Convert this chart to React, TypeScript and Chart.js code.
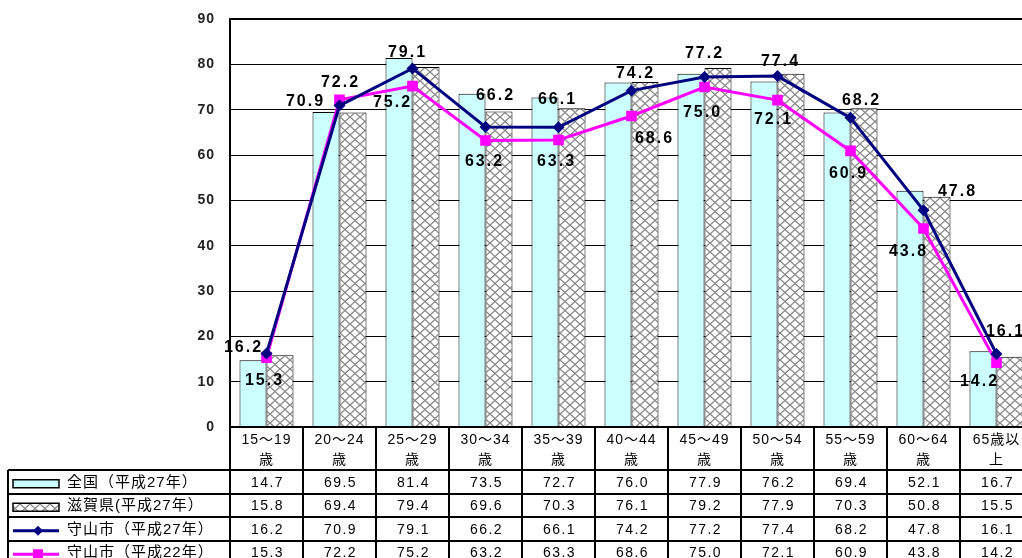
import React, { useEffect, useRef } from "react";
import { Chart, registerables } from "chart.js";

Chart.register(...registerables);

// ---- data ----
const categories: string[][] = [
  ["15～19", "歳"],
  ["20～24", "歳"],
  ["25～29", "歳"],
  ["30～34", "歳"],
  ["35～39", "歳"],
  ["40～44", "歳"],
  ["45～49", "歳"],
  ["50～54", "歳"],
  ["55～59", "歳"],
  ["60～64", "歳"],
  ["65歳以", "上"],
];
const zenkokuH27 = [14.7, 69.5, 81.4, 73.5, 72.7, 76.0, 77.9, 76.2, 69.4, 52.1, 16.7];
const shigaH27 = [15.8, 69.4, 79.4, 69.6, 70.3, 76.1, 79.2, 77.9, 70.3, 50.8, 15.5];
const moriyamaH27 = [16.2, 70.9, 79.1, 66.2, 66.1, 74.2, 77.2, 77.4, 68.2, 47.8, 16.1];
const moriyamaH22 = [15.3, 72.2, 75.2, 63.2, 63.3, 68.6, 75.0, 72.1, 60.9, 43.8, 14.2];
const seriesNames = ["全国（平成27年）", "滋賀県(平成27年）", "守山市（平成27年）", "守山市（平成22年）"];
const yMin = 0;
const yMax = 90;
const yStep = 10;

// label placement (pixel offsets from each point), not data
const labelOffsetsH27: number[][] = [
  [-24, -6], [-35, -4], [-6, -16], [9, -31], [-2, -28], [3, -17], [-1, -23], [2, -15], [10, -17], [33, -19], [8, -22],
];
const labelOffsetsH22: number[][] = [
  [-3, 23], [0, -17], [-21, 17], [-2, 21], [-3, 22], [22, 23], [-3, 26], [-5, 19], [-3, 23], [-16, 23], [-18, 19],
];

const CYAN = "#CCFFFF";
const NAVY = "#000080";
const MAGENTA = "#FF00FF";
const FONT = '"Liberation Sans", "Noto Sans CJK JP", sans-serif';

function makeHatch(): CanvasPattern | string {
  const w = 10;
  const h = 9;
  const c = document.createElement("canvas");
  c.width = w;
  c.height = h;
  const g = c.getContext("2d");
  if (!g) return "#fff";
  g.fillStyle = "#fff";
  g.fillRect(0, 0, w, h);
  g.strokeStyle = "#858585";
  g.lineWidth = 1.3;
  g.beginPath();
  g.moveTo(-w * 0.1, -h * 0.1);
  g.lineTo(w * 1.1, h * 1.1);
  g.moveTo(w * 1.1, -h * 0.1);
  g.lineTo(-w * 0.1, h * 1.1);
  g.stroke();
  return g.createPattern(c, "repeat") || "#fff";
}

export default function App() {
  const ref = useRef<HTMLCanvasElement | null>(null);

  useEffect(() => {
    const canvas = ref.current;
    if (!canvas) return;
    const hatch = makeHatch();

    const spacingPlugin = {
      id: "spacing",
      beforeDraw(chart: any) {
        chart.ctx.letterSpacing = "1px";
      },
    };

    const labelPlugin = {
      id: "pointLabels",
      afterDatasetsDraw(chart: any) {
        const ctx = chart.ctx;
        ctx.save();
        ctx.letterSpacing = "2px";
        ctx.font = `bold 16px ${FONT}`;
        ctx.fillStyle = "#000";
        ctx.textAlign = "center";
        ctx.textBaseline = "middle";
        const sets: [number, number[], number[][]][] = [
          [2, moriyamaH27, labelOffsetsH27],
          [3, moriyamaH22, labelOffsetsH22],
        ];
        sets.forEach(([di, vals, offs]) => {
          const meta = chart.getDatasetMeta(di);
          meta.data.forEach((pt: any, i: number) => {
            const o = offs[i];
            ctx.fillText(vals[i].toFixed(1), pt.x + o[0] + 1, pt.y + o[1]);
          });
        });
        ctx.restore();
      },
    };

    const tablePlugin = {
      id: "dataTable",
      afterDraw(chart: any) {
        const ctx = chart.ctx;
        const area = chart.chartArea;
        const n = categories.length;
        const catW = (area.right - area.left) / n;
        const tableLeft = 8;
        const headTop = area.bottom;
        const rowTop = area.bottom + 43;
        const rowH = 23.5;
        const bottom = rowTop + rowH * 4 + 5;
        const rightEdge = chart.width;
        ctx.save();
        ctx.strokeStyle = "#000";
        ctx.lineWidth = 2;
        ctx.beginPath();
        // top frame line of plot
        ctx.moveTo(area.left, area.top);
        ctx.lineTo(rightEdge, area.top);
        // horizontal lines
        ctx.moveTo(area.left, headTop);
        ctx.lineTo(rightEdge, headTop);
        for (let r = 0; r < 5; r++) {
          const y = Math.round(rowTop + r * rowH);
          ctx.moveTo(tableLeft, y);
          ctx.lineTo(rightEdge, y);
        }
        // vertical lines
        ctx.moveTo(tableLeft, rowTop);
        ctx.lineTo(tableLeft, bottom);
        ctx.moveTo(area.left, area.top - 1);
        ctx.lineTo(area.left, bottom);
        for (let i = 1; i <= n; i++) {
          const x = Math.round(area.left + i * catW);
          ctx.moveTo(x, headTop);
          ctx.lineTo(x, bottom);
        }
        ctx.stroke();

        // values
        const rows = [zenkokuH27, shigaH27, moriyamaH27, moriyamaH22];
        ctx.fillStyle = "#000";
        ctx.textAlign = "center";
        ctx.textBaseline = "middle";
        ctx.letterSpacing = "1.5px";
        ctx.font = `14px ${FONT}`;
        rows.forEach((vals, r) => {
          const cy = rowTop + r * rowH + rowH / 2 + 1;
          vals.forEach((v, i) => {
            const cx = chart.scales.x.getPixelForValue(i);
            ctx.fillText(v.toFixed(1), cx + 1, cy);
          });
        });

        // legend keys
        ctx.letterSpacing = "1px";
        ctx.font = `15px ${FONT}`;
        ctx.textAlign = "left";
        seriesNames.forEach((name, r) => {
          const cy = rowTop + r * rowH + rowH / 2;
          const sx = 13;
          const sw = 46;
          if (r === 0 || r === 1) {
            ctx.fillStyle = r === 0 ? CYAN : hatch;
            ctx.fillRect(sx, cy - 2, sw, 8);
            ctx.lineWidth = 1.5;
            ctx.strokeStyle = "#000";
            ctx.strokeRect(sx, cy - 2, sw, 8);
          } else {
            const col = r === 2 ? NAVY : MAGENTA;
            ctx.strokeStyle = col;
            ctx.lineWidth = 3;
            ctx.beginPath();
            ctx.moveTo(sx, cy + 2);
            ctx.lineTo(sx + sw, cy + 2);
            ctx.stroke();
            ctx.fillStyle = col;
            const mx = sx + sw / 2 + 2;
            if (r === 2) {
              ctx.beginPath();
              ctx.moveTo(mx, cy + 2 - 5);
              ctx.lineTo(mx + 5, cy + 2);
              ctx.lineTo(mx, cy + 2 + 5);
              ctx.lineTo(mx - 5, cy + 2);
              ctx.closePath();
              ctx.fill();
            } else {
              ctx.fillRect(mx - 5, cy + 2 - 5, 10, 10);
            }
          }
          ctx.fillStyle = "#000";
          ctx.fillText(name, 67, cy + 1);
        });
        ctx.restore();
      },
    };

    const chart = new Chart(canvas, {
      type: "bar",
      data: {
        labels: categories,
        datasets: [
          {
            type: "bar",
            label: seriesNames[0],
            data: zenkokuH27,
            backgroundColor: CYAN,
            borderColor: "#000",
            borderWidth: 1,
            order: 1,
          },
          {
            type: "bar",
            label: seriesNames[1],
            data: shigaH27,
            backgroundColor: hatch as any,
            borderColor: "#000",
            borderWidth: 1,
            order: 1,
          },
          {
            type: "line",
            label: seriesNames[2],
            data: moriyamaH27,
            borderColor: NAVY,
            backgroundColor: NAVY,
            borderWidth: 3,
            pointStyle: "rectRot",
            pointRadius: 6,
            pointBorderWidth: 0,
            order: 0,
          },
          {
            type: "line",
            label: seriesNames[3],
            data: moriyamaH22,
            borderColor: MAGENTA,
            backgroundColor: MAGENTA,
            borderWidth: 3,
            pointStyle: "rect",
            pointRadius: 7.5,
            pointBorderWidth: 0,
            order: 0,
          },
        ] as any,
      },
      options: {
        responsive: false,
        animation: false,
        events: [],
        datasets: { bar: { categoryPercentage: 0.74, barPercentage: 1 } } as any,
        layout: { padding: { left: 0, top: 19, right: 27, bottom: 105 } },
        plugins: { legend: { display: false }, tooltip: { enabled: false } },
        scales: {
          x: {
            grid: { display: false, drawTicks: false },
            border: { display: false },
            ticks: {
              color: "#000",
              font: { family: FONT, size: 14, lineHeight: 1.45 },
              padding: 3,
              maxRotation: 0,
              autoSkip: false,
            },
            afterFit: (s: any) => {
              s.height = 43;
              s.paddingLeft = 0;
              s.paddingRight = 0;
            },
          },
          y: {
            min: yMin,
            max: yMax,
            grid: {
              color: "#000",
              lineWidth: 1,
              drawTicks: false,
            },
            border: { display: false },
            ticks: {
              stepSize: yStep,
              color: "#222",
              font: { family: FONT, size: 14, weight: "bold" },
              padding: 15,
            },
            afterFit: (s: any) => {
              s.width = 230;
              s.paddingTop = 0;
              s.paddingBottom = 0;
            },
          },
        },
      } as any,
      plugins: [spacingPlugin, labelPlugin, tablePlugin],
    });

    return () => chart.destroy();
  }, []);

  return (
    <div
      style={{
        position: "absolute",
        left: 0,
        top: 0,
        width: 1022,
        height: 558,
        overflow: "hidden",
        background: "#fff",
      }}
    >
      <canvas ref={ref} width={1060} height={575} style={{ display: "block" }} />
    </div>
  );
}
